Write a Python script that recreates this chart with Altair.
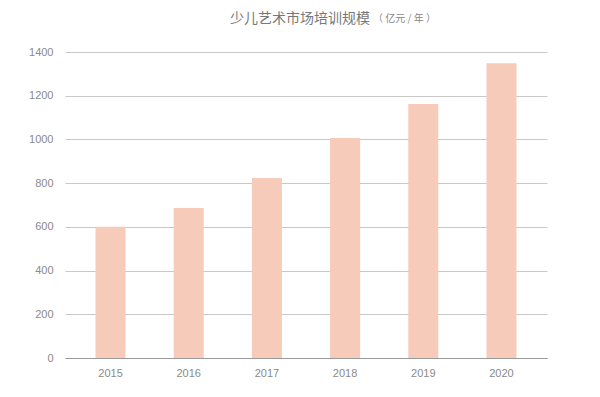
import altair as alt
import pandas as pd

years = ["2015", "2016", "2017", "2018", "2019", "2020"]
values = [600, 686, 823, 1006, 1162, 1349]
y_ticks = [0, 200, 400, 600, 800, 1000, 1200, 1400]
title_main = "少儿艺术市场培训规模"
title_unit = "（ 亿元 / 年 ）"

df = pd.DataFrame({"year": years, "value": values})

bars = alt.Chart(df).mark_bar(color="#F7CBBA").encode(
    x=alt.X("year:N", title=None, sort=years,
            scale=alt.Scale(paddingInner=0.616, paddingOuter=0.39),
            axis=alt.Axis(labelAngle=0, labelColor="#8a8a8a", labelFontSize=11,
                          labelFont="Liberation Sans", ticks=False, labelPadding=9,
                          domainColor="#999999", domainWidth=1, grid=False)),
    y=alt.Y("value:Q", title=None,
            scale=alt.Scale(domain=[0, 1400], nice=False),
            axis=alt.Axis(values=y_ticks, format="d", labelColor="#8a8a8a", labelFontSize=11,
                          labelFont="Liberation Sans", ticks=False, domain=False,
                          labelPadding=12, gridColor="#c8c8c8", gridWidth=1)),
)

t1 = alt.Chart(pd.DataFrame({"t": [title_main]})).mark_text(
    font="Noto Sans CJK SC", fontSize=14, color="#777777", align="center", baseline="middle"
).encode(text="t:N", x=alt.value(235), y=alt.value(-33))

t2 = alt.Chart(pd.DataFrame({"t": [title_unit]})).mark_text(
    font="Noto Sans CJK SC", fontSize=10, color="#888888", align="left", baseline="middle"
).encode(text="t:N", x=alt.value(308), y=alt.value(-33))

chart = (bars + t1 + t2).properties(
    width=482, height=306,
    autosize=alt.AutoSizeParams(type="none"),
    padding={"left": 57, "top": 44, "right": 45, "bottom": 30},
).configure_view(stroke=None)

chart.save("out.html", embed_options={"renderer": "svg", "actions": False})
